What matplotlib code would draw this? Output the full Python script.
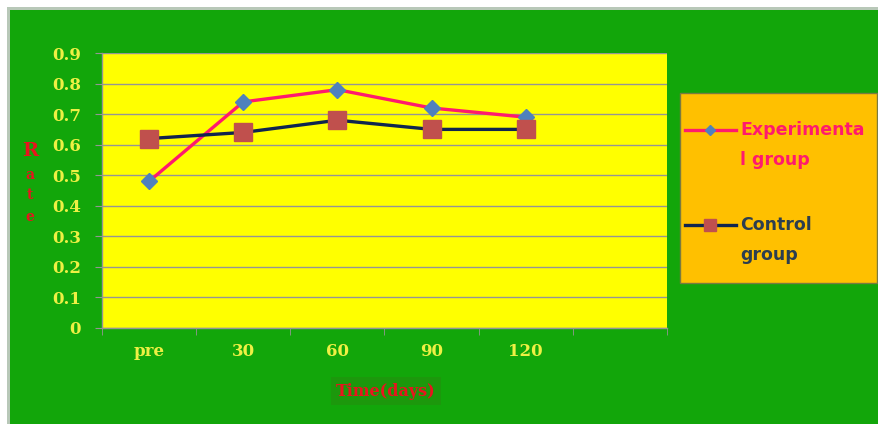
import matplotlib

matplotlib.use("Agg")
import matplotlib.pyplot as plt
from matplotlib.lines import Line2D
from matplotlib.patches import Rectangle
import numpy as np

categories = ["pre", "30", "60", "90", "120", ""]
experimental = [0.48, 0.74, 0.78, 0.72, 0.69]
control = [0.62, 0.64, 0.68, 0.65, 0.65]
y_ticks = [0, 0.1, 0.2, 0.3, 0.4, 0.5, 0.6, 0.7, 0.8, 0.9]
legend_labels = [("Experimenta", "l group"), ("Control", "group")]

GREEN = "#12a60a"
YELLOW = "#ffff00"
LABEL_YELLOW = "#eef044"
RED = "#e8141e"
PINK = "#ff1a6e"
NAVY = "#10254f"
DIAMOND = "#4f81bd"
SQUARE = "#c0504d"
GRID = "#959595"

W, H = 879, 424
fig = plt.figure(figsize=(W / 100, H / 100), dpi=100, facecolor="white")


def fx(px):
    return px / W


def fy(py):
    return 1 - py / H


# green chart area with a thin grey rim on the top/left
fig.patches.append(Rectangle((fx(7), 0), 1, fy(7), transform=fig.transFigure,
                             facecolor="#b8c8b8", edgecolor="none", zorder=-3))
fig.patches.append(Rectangle((fx(10), 0), 1, fy(10), transform=fig.transFigure,
                             facecolor=GREEN, edgecolor="none", zorder=-2))

ax = fig.add_axes([fx(102), fy(328), fx(667) - fx(102), fy(53) - fy(328)])
ax.set_facecolor(YELLOW)

x = np.arange(len(experimental))
ax.plot(x, experimental, color=PINK, lw=2.4, marker="D", ms=8,
        mfc=DIAMOND, mec=DIAMOND, zorder=3)
ax.plot(x, control, color=NAVY, lw=2.4, marker="s", ms=13,
        mfc=SQUARE, mec=SQUARE, zorder=3)

ax.set_xlim(-0.5, len(categories) - 0.5)
ax.set_ylim(0, 0.9)
ax.set_yticks(y_ticks)
ax.set_yticklabels(["0"] + [f"{v:.1f}" for v in y_ticks[1:]])
ax.set_xticks(np.arange(len(categories)))
ax.set_xticklabels(categories)
ax.set_xticks(np.arange(len(categories) + 1) - 0.5, minor=True)
ax.tick_params(axis="x", which="major", length=0, pad=11)
ax.tick_params(axis="x", which="minor", length=5, color=GRID)
ax.tick_params(axis="y", length=5, color=GRID, pad=10)
for lab in ax.get_xticklabels() + ax.get_yticklabels():
    lab.set_family("DejaVu Serif")
    lab.set_fontweight("bold")
    lab.set_fontsize(12)
    lab.set_color(LABEL_YELLOW)

ax.grid(axis="y", color=GRID, lw=1)
ax.set_axisbelow(True)
for sp in ax.spines.values():
    sp.set_color(GRID)
    sp.set_linewidth(1)
ax.spines["top"].set_visible(False)
ax.spines["right"].set_visible(False)

# stacked vertical axis title
for letter, ypix, size in [("R", 151, 14), ("a", 175, 10), ("t", 195, 10), ("e", 217, 10)]:
    fig.text(fx(30), fy(ypix), letter, ha="center", va="center", color=RED,
             family="DejaVu Serif", fontweight="bold", fontsize=size)

fig.text(fx(386), fy(391), "Time(days)", ha="center", va="center", color=RED,
         family="DejaVu Serif", fontweight="bold", fontsize=11.5,
         bbox=dict(boxstyle="square,pad=0.35", facecolor="#1c980c", edgecolor="none"))

# legend panel, drawn by hand so each handle sits on the first text line
fig.patches.append(Rectangle((fx(680), fy(283)), fx(197), 190 / H,
                             transform=fig.transFigure, facecolor="#ffc000",
                             edgecolor="#7a7a40", lw=1, zorder=1))
legend_style = [
    dict(color=PINK, marker="D", ms=5, mfc=DIAMOND, mec=DIAMOND, text=PINK, y=130),
    dict(color=NAVY, marker="s", ms=8, mfc=SQUARE, mec=SQUARE, text="#2c3e50", y=225),
]
for (first, second), st in zip(legend_labels, legend_style):
    yl = st["y"]
    fig.add_artist(Line2D([fx(685), fx(736)], [fy(yl), fy(yl)], color=st["color"],
                          lw=2.4, transform=fig.transFigure, zorder=2))
    fig.add_artist(Line2D([fx(710.5)], [fy(yl)], marker=st["marker"], ms=st["ms"],
                          mfc=st["mfc"], mec=st["mec"], transform=fig.transFigure,
                          zorder=3))
    for k, line in enumerate((first, second)):
        fig.text(fx(740), fy(yl + 30 * k), line, ha="left", va="center",
                 color=st["text"], family="DejaVu Sans", fontweight="bold",
                 fontsize=12.5, zorder=3)

fig.savefig("out.png", dpi=100, facecolor=fig.get_facecolor())
